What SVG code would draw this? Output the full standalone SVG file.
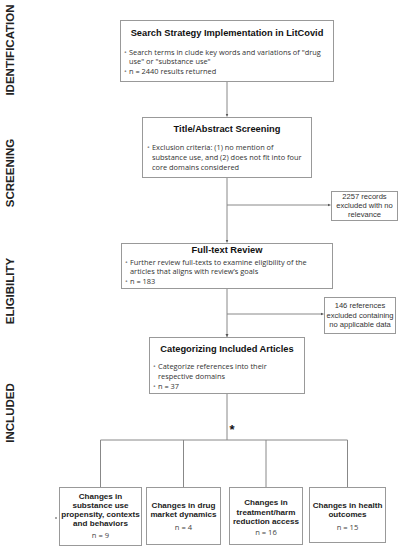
<svg xmlns="http://www.w3.org/2000/svg" width="401" height="550" viewBox="0 0 401 550">
<defs>
<style>
.box{fill:#fff;stroke:#999;stroke-width:1}
.ln{fill:none;stroke:#888;stroke-width:1}
.ttl{font-family:"Liberation Sans",Arial,sans-serif;font-weight:bold;font-size:9.3px;fill:#111;text-anchor:middle}
.body{font-family:"Open Sans","Noto Sans",sans-serif;font-size:7.4px;fill:#333}
.bul{font-family:"Open Sans",sans-serif;font-size:7.4px;fill:#888}
.exc{font-family:"Liberation Sans",Arial,sans-serif;font-size:7.6px;fill:#333;text-anchor:middle}
.cat{font-family:"Liberation Sans",Arial,sans-serif;font-weight:bold;font-size:8.1px;fill:#222;text-anchor:middle}
.n{font-family:"Open Sans",sans-serif;font-size:7.6px;fill:#444;text-anchor:middle}
.sec{font-family:"Liberation Sans",Arial,sans-serif;font-weight:bold;font-size:11.5px;fill:#222;text-anchor:middle}
</style>
<marker id="ah" markerWidth="4" markerHeight="4" refX="3" refY="2" orient="auto" markerUnits="userSpaceOnUse">
<path d="M0,0.5 L3,2 L0,3.5 Z" fill="#555"/>
</marker>
</defs>
<rect width="401" height="550" fill="#fff"/>
<g id="sections">
<text class="sec" transform="translate(14,50) rotate(-90)">IDENTIFICATION</text>
<text class="sec" transform="translate(14,173) rotate(-90)">SCREENING</text>
<text class="sec" transform="translate(14,291) rotate(-90)">ELIGIBILITY</text>
<text class="sec" transform="translate(14,413) rotate(-90)">INCLUDED</text>
</g>
<g id="connectors">
<line class="ln" x1="227" y1="82" x2="227" y2="116.5" marker-end="url(#ah)"/>
<line class="ln" x1="227" y1="178" x2="227" y2="242.5" marker-end="url(#ah)"/>
<line class="ln" x1="227" y1="205" x2="330.5" y2="205" marker-end="url(#ah)"/>
<line class="ln" x1="227" y1="289" x2="227" y2="337" marker-end="url(#ah)"/>
<line class="ln" x1="227" y1="314" x2="323.5" y2="314" marker-end="url(#ah)"/>
<line class="ln" x1="227" y1="394" x2="227" y2="440"/>
<polyline class="ln" points="100.5,487 100.5,440 347.5,440 347.5,487"/>
<line class="ln" x1="183.5" y1="440" x2="183.5" y2="487"/>
<line class="ln" x1="266" y1="440" x2="266" y2="487"/>
<text x="232" y="434" font-family="Liberation Sans,Arial,sans-serif" font-weight="bold" font-size="13" fill="#111" text-anchor="middle">*</text>
</g>
<g id="search">
<rect class="box" x="120.5" y="20.5" width="213" height="61"/>
<text class="ttl" x="227" y="35.5">Search Strategy Implementation in LitCovid</text>
<text class="bul" x="124" y="54.5">•</text>
<text class="body" x="129" y="54.5">Search terms in clude key words and variations of "drug</text>
<text class="body" x="129" y="64">use" or "substance use"</text>
<text class="bul" x="124" y="73.5">•</text>
<text class="body" x="129" y="73.5">n = 2440 results returned</text>
</g>
<g id="screening">
<rect class="box" x="142.5" y="117.5" width="169" height="60"/>
<text class="ttl" x="227" y="131.5">Title/Abstract Screening</text>
<text class="bul" x="147" y="149.5">•</text>
<text class="body" x="152" y="149.5">Exclusion criteria: (1) no mention of</text>
<text class="body" x="152" y="159.5">substance use, and (2) does not fit into four</text>
<text class="body" x="152" y="169.5">core domains considered</text>
</g>
<g id="excluded1">
<rect class="box" x="331.5" y="191.5" width="66" height="29"/>
<text class="exc" x="364.5" y="199">2257 records</text>
<text class="exc" x="364.5" y="208">excluded with no</text>
<text class="exc" x="364.5" y="217">relevance</text>
</g>
<g id="fulltext">
<rect class="box" x="121.5" y="243.5" width="211" height="45"/>
<text class="ttl" x="227" y="252.5">Full-text Review</text>
<text class="bul" x="125" y="264.5">•</text>
<text class="body" x="130" y="264.5">Further review full-texts to examine eligibility of the</text>
<text class="body" x="130" y="274">articles that aligns with review’s goals</text>
<text class="bul" x="125" y="283.5">•</text>
<text class="body" x="130" y="283.5">n = 183</text>
</g>
<g id="excluded2">
<rect class="box" x="324.5" y="297.5" width="71" height="36"/>
<text class="exc" x="360" y="308">146 references</text>
<text class="exc" x="360" y="317.5">excluded containing</text>
<text class="exc" x="360" y="327">no applicable data</text>
</g>
<g id="categorizing">
<rect class="box" x="149.5" y="337.5" width="155" height="56"/>
<text class="ttl" x="227" y="351.5">Categorizing Included Articles</text>
<text class="bul" x="153" y="368.5">•</text>
<text class="body" x="158" y="368.5">Categorize references into their</text>
<text class="body" x="158" y="378.5">respective domains</text>
<text class="bul" x="153" y="388.5">•</text>
<text class="body" x="158" y="388.5">n = 37</text>
</g>
<g id="cat1">
<rect class="box" x="59.5" y="487.5" width="82" height="58"/>
<rect x="55" y="517.5" width="2" height="1" fill="#555"/>
<text class="cat" x="100.5" y="499">Changes in</text>
<text class="cat" x="100.5" y="508">substance use</text>
<text class="cat" x="100.5" y="517">propensity, contexts</text>
<text class="cat" x="100.5" y="526">and behaviors</text>
<text class="n" x="100.5" y="538">n = 9</text>
</g>
<g id="cat2">
<rect class="box" x="146.5" y="487.5" width="74" height="57"/>
<text class="cat" x="183.5" y="508">Changes in drug</text>
<text class="cat" x="183.5" y="517">market dynamics</text>
<text class="n" x="183.5" y="530">n = 4</text>
</g>
<g id="cat3">
<rect class="box" x="229.5" y="487.5" width="73" height="57"/>
<text class="cat" x="266" y="505">Changes in</text>
<text class="cat" x="266" y="514.5">treatment/harm</text>
<text class="cat" x="266" y="524">reduction access</text>
<text class="n" x="266" y="535">n = 16</text>
</g>
<g id="cat4">
<rect class="box" x="309.5" y="487.5" width="76" height="55"/>
<text class="cat" x="347.5" y="508">Changes in health</text>
<text class="cat" x="347.5" y="517">outcomes</text>
<text class="n" x="347.5" y="530">n = 15</text>
</g>
</svg>
